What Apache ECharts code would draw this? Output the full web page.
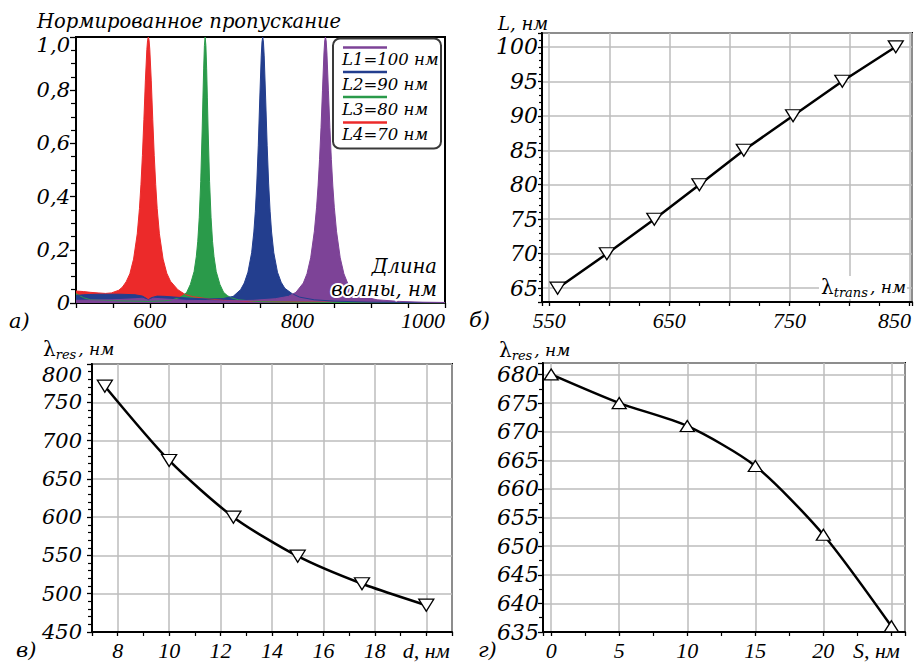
<!DOCTYPE html>
<html><head><meta charset="utf-8">
<script src="https://cdn.jsdelivr.net/npm/echarts@6/dist/echarts.min.js"></script>
<style>html,body{margin:0;padding:0;background:#fff}#c{width:915px;height:663px}</style>
</head><body><div id="c"></div>
<script>
// ---------- Panel a: normalized transmission spectra ----------
const redWl = [500,510,520,530,540,548,558,563,568,573,578,583,586,588,590,592,594,596,597,598,599,600,602,604,606,608,610,613,618,623,628,638,648,658,680,700,750,800,900,1000];
const redT  = [0.045,0.043,0.040,0.038,0.036,0.038,0.048,0.060,0.080,0.110,0.165,0.260,0.355,0.445,0.555,0.690,0.835,0.953,0.988,1.0,0.988,0.953,0.835,0.690,0.555,0.445,0.355,0.260,0.165,0.112,0.082,0.050,0.032,0.024,0.015,0.010,0.006,0.004,0.002,0.001];

const greenWl = [500,505,510,520,560,600,620,630,640,645,650,655,660,663,665,667,669,671,672,673,674,675,676,677,678,679,681,683,685,687,690,695,700,705,710,720,750,800,900,1000];
const greenT  = [0.035,0.028,0.020,0.012,0.008,0.006,0.008,0.012,0.020,0.028,0.040,0.070,0.118,0.174,0.232,0.321,0.457,0.654,0.771,0.883,0.968,1.0,0.968,0.883,0.771,0.654,0.457,0.321,0.232,0.174,0.118,0.070,0.040,0.028,0.020,0.012,0.005,0.003,0.001,0.0];

const blueWl = [500,510,530,560,580,590,595,598,602,610,620,640,660,680,700,713,723,728,733,738,741,743,745,747,749,751,752,753,754,755,757,759,761,763,765,768,773,778,783,793,803,823,850,900,1000];
const blueT  = [0.028,0.031,0.033,0.033,0.031,0.026,0.018,0.012,0.020,0.026,0.025,0.021,0.017,0.015,0.017,0.025,0.050,0.075,0.116,0.189,0.267,0.345,0.451,0.593,0.767,0.929,0.981,1.0,0.981,0.929,0.767,0.593,0.451,0.345,0.267,0.189,0.116,0.078,0.055,0.035,0.022,0.012,0.007,0.003,0.001];

const purpleWl = [500,550,580,590,598,605,615,650,700,740,770,788,798,808,813,818,823,826,828,830,832,834,836,837,838,839,840,842,844,846,848,850,853,858,863,868,878,888,908,938,970,1000];
const purpleT  = [0.010,0.012,0.016,0.018,0.010,0.018,0.016,0.010,0.008,0.010,0.016,0.025,0.040,0.075,0.110,0.170,0.270,0.360,0.440,0.540,0.660,0.800,0.940,0.985,1.0,0.985,0.940,0.800,0.660,0.540,0.440,0.360,0.270,0.170,0.110,0.075,0.040,0.025,0.012,0.006,0.003,0.002];

const aXLabels = [600, 800, 1000];
const legendNames = ['L1=100 нм', 'L2=90 нм', 'L3=80 нм', 'L4=70 нм'];

// ---------- Panel b: L vs lambda_trans ----------
const bLambda = [557, 598, 637.5, 675, 712, 753, 794, 838.5];
const bL      = [65, 70, 75, 80, 85, 90, 95, 100];
const bXLabels = [550, 650, 750, 850];

// ---------- Panel c: lambda_res vs d ----------
const cD      = [7.5, 10, 12.5, 15, 17.5, 20];
const cLambda = [771, 674, 600, 549, 513, 485];
const cXLabels = [8, 10, 12, 14, 16, 18];

// ---------- Panel d: lambda_res vs S ----------
const dS      = [0, 5, 10, 15, 20, 25];
const dLambda = [680, 675, 671, 664, 652, 636];
const dXLabels = [0, 5, 10, 15, 20];

// ---------- styles ----------
const FY = 'DejaVu Serif';
const FX = 'Liberation Serif';
const colPurple = '#7d4397', colBlue = '#233e8e', colGreen = '#2a9a4a', colRed = '#ec2a2a';
const gridCol = '#bcbcbc';
const pairs = (xs, ys) => xs.map((x, i) => [x, ys[i]]);

function mkGrid(l, t, w, h) {
  return {left: l, top: t, width: w, height: h, show: true, borderColor: '#000', borderWidth: 2,
          backgroundColor: 'transparent', containLabel: false, outerBoundsMode: 'none'};
}
const axLine = {show: true, onZero: false, lineStyle: {color: '#000', width: 2}};
const tick = (len) => ({show: true, length: len, lineStyle: {color: '#000', width: 1.3}});
const minor = (n, len) => ({show: true, splitNumber: n, length: len, lineStyle: {color: '#000', width: 1.2}});
const split = (s) => ({show: s, lineStyle: {color: gridCol, width: 1.5}});
function richX(size) {
  const base = {fontFamily: FX, fontStyle: 'italic', fontSize: size, color: '#000'};
  return {r44: Object.assign({padding: [0, 44, 0, 0]}, base), r30: Object.assign({padding: [0, 30, 0, 0]}, base)};
}
const xLab = (fmt, size, margin) => ({show: true, formatter: fmt, fontFamily: FX, fontStyle: 'italic', fontSize: size, color: '#000', margin: margin, rich: richX(size)});
const yLab = (fmt, size, margin) => ({show: true, formatter: fmt, fontFamily: FY, fontStyle: 'italic', fontSize: size, color: '#000', margin: margin,
  rich: {top: {fontFamily: FY, fontStyle: 'italic', fontSize: size, color: '#000', padding: [16, 0, 0, 0]}}});

function areaSeries(name, wl, t, col) {
  return {name: name, type: 'line', xAxisIndex: 0, yAxisIndex: 0, data: pairs(wl, t), showSymbol: false, symbol: 'none',
          lineStyle: {color: col, width: 1}, itemStyle: {color: col}, areaStyle: {color: col, opacity: 1}, animation: false};
}
function markSeries(idx, xs, ys, down, smooth, size) {
  return {type: 'line', xAxisIndex: idx, yAxisIndex: idx, data: pairs(xs, ys), smooth: smooth, clip: false,
          symbol: 'triangle', symbolSize: size, symbolRotate: down ? 180 : 0, showSymbol: true,
          lineStyle: {color: '#000', width: 2.5}, itemStyle: {color: '#fff', borderColor: '#000', borderWidth: 1.3},
          z: 5, animation: false};
}

// text helper for graphic
const T = (txt, x, y, size, opts, upright) => Object.assign({type: 'text', x: x, y: y, z: 100,
  style: Object.assign({text: txt, font: (upright ? '' : 'italic ') + size + 'px "' + FY + '"', fill: '#000', align: 'left', verticalAlign: 'middle'}, (opts || {}))});
// lambda with subscript as one rich text
const lamRich = {
  l: {fontFamily: FY, fontStyle: 'normal', fontSize: 20, lineHeight: 24, color: '#000'},
  s: {fontFamily: FY, fontStyle: 'italic', fontSize: 13, lineHeight: 15, verticalAlign: 'bottom', color: '#000', padding: [0, 2, 0, 0]},
  n: {fontFamily: FY, fontStyle: 'italic', fontSize: 17, lineHeight: 20, color: '#000'}
};
const L = (sub, x, y) => ({type: 'text', x: x, y: y, z: 100,
  style: {text: '{l|λ}{s|' + sub + '}{n|, нм}', rich: lamRich, align: 'left', verticalAlign: 'middle', fill: '#000'}});

const legendCols = [colPurple, colBlue, colGreen, colRed];
const legendLineY = [47.5, 72, 97, 122.5];
const legendTextY = [59.5, 84.5, 109.5, 134.5];
const graphics = [
  T('Нормированное пропускание', 37, 21, 19.5),
  T('а)', 9, 321, 21), T('б)', 469, 320, 21), T('в)', 16, 650, 21), T('г)', 478, 650, 21),
  {type: 'rect', z: 90, shape: {x: 333, y: 38.5, width: 108, height: 110, r: 7}, style: {fill: '#fff', stroke: '#3a3a3a', lineWidth: 2}},
];
legendNames.forEach((n, i) => {
  graphics.push({type: 'line', z: 100, shape: {x1: 343, y1: legendLineY[i], x2: 387, y2: legendLineY[i]}, style: {stroke: legendCols[i], lineWidth: 2.5}});
  graphics.push(T(n, 342, legendTextY[i], 16.5));
});
graphics.push(T('Длина', 437, 266.5, 19.5, {align: 'right', stroke: '#fff', lineWidth: 4}));
graphics.push(T('волны, нм', 437, 289, 19.5, {align: 'right', stroke: '#fff', lineWidth: 4}));
// panel b titles
graphics.push(T('L, нм', 498, 23, 18));
graphics.push({type: 'rect', z: 95, shape: {x: 819, y: 276, width: 88, height: 23}, style: {fill: '#fff'}});
graphics.push(L('trans', 821, 287));
// panel c / d titles
graphics.push(L('res', 43, 349));
graphics.push(L('res', 499, 350));

const option = {
  backgroundColor: '#fff',
  animation: false,
  grid: [mkGrid(76, 37, 369, 266), mkGrid(542, 33, 370, 269), mkGrid(92, 364, 360, 268), mkGrid(543, 363, 362, 269)],
  xAxis: [
    {gridIndex: 0, type: 'value', min: 500, max: 1000, interval: 50, axisLine: axLine, axisTick: tick(5),
     axisLabel: xLab(v => v === 1000 ? '{r44|1000}' : (aXLabels.includes(v) ? String(v) : ''), 22, 6), splitLine: split(false)},
    {gridIndex: 1, type: 'value', min: 544, max: 852, splitNumber: 6, axisLine: axLine, axisTick: tick(4), minorTick: minor(2, 4),
     axisLabel: xLab(v => v === 850 ? '{r30|850}' : (bXLabels.includes(v) ? String(v) : ''), 22, 7), splitLine: split(true)},
    {gridIndex: 2, type: 'value', min: 7, max: 21, splitNumber: 7, axisLine: axLine, axisTick: tick(4), minorTick: minor(2, 4),
     axisLabel: xLab(v => v === 20 ? 'd, нм' : (cXLabels.includes(v) ? String(v) : ''), 22, 7), splitLine: split(true)},
    {gridIndex: 3, type: 'value', min: -0.6, max: 26, splitNumber: 5, axisLine: axLine, axisTick: tick(4), minorTick: minor(2, 4),
     axisLabel: xLab(v => v === 25 ? '{r30|S, нм}' : (dXLabels.includes(v) ? String(v) : ''), 22, 7), splitLine: split(true)}
  ],
  yAxis: [
    {gridIndex: 0, type: 'value', min: 0, max: 1, interval: 0.2, axisLine: axLine, axisTick: tick(6), minorTick: minor(4, 5),
     axisLabel: yLab(v => v === 0 ? '0' : (v >= 0.999 ? '{top|1,0}' : v.toFixed(1).replace('.', ',')), 21, 6), splitLine: split(false)},
    {gridIndex: 1, type: 'value', min: 63, max: 102, splitNumber: 8, axisLine: axLine, axisTick: tick(4), minorTick: minor(5, 3),
     axisLabel: yLab(v => (v % 5 === 0) ? String(v) : '', 22, 4), splitLine: split(true)},
    {gridIndex: 2, type: 'value', min: 450, max: 800, interval: 50, axisLine: axLine, axisTick: tick(5), minorTick: minor(5, 4),
     axisLabel: Object.assign(yLab(v => String(v), 21, 10), {verticalAlignMaxLabel: 'top'}), splitLine: split(true)},
    {gridIndex: 3, type: 'value', min: 635, max: 682, interval: 5, axisLine: axLine, axisTick: tick(5), minorTick: minor(2, 4),
     axisLabel: yLab(v => (v % 5 === 0) ? String(v) : '', 22, 4), splitLine: split(true)}
  ],
  series: [
    areaSeries(legendNames[3], redWl, redT, colRed),
    areaSeries(legendNames[2], greenWl, greenT, colGreen),
    areaSeries(legendNames[1], blueWl, blueT, colBlue),
    areaSeries(legendNames[0], purpleWl, purpleT, colPurple),
    markSeries(1, bLambda, bL, true, false, [15, 12]),
    markSeries(2, cD, cLambda, true, 0.25, [15, 12]),
    markSeries(3, dS, dLambda, false, 0.25, [14, 11])
  ],
  graphic: graphics
};
const chart = echarts.init(document.getElementById('c'), null, {renderer: 'svg'});
chart.setOption(option);
</script></body></html>
